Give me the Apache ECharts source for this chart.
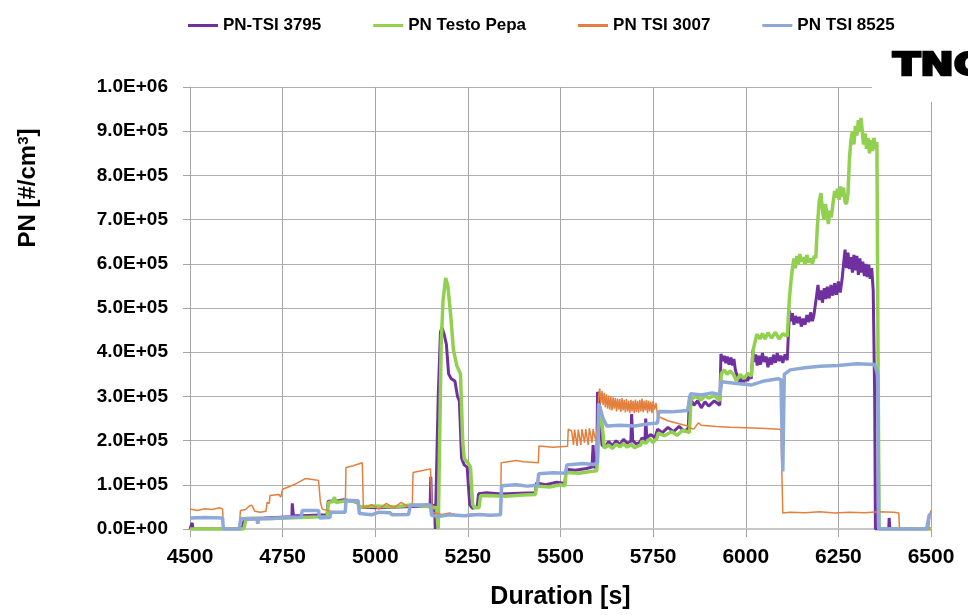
<!DOCTYPE html>
<html>
<head>
<meta charset="utf-8">
<title>PN</title>
<script src="https://cdn.jsdelivr.net/npm/echarts@6/dist/echarts.min.js"></script>
<style>
  html, body { margin: 0; padding: 0; background: #fff; }
  #main { width: 968px; height: 615px; }
</style>
</head>
<body>
<div id="main"></div>
<script>
// values: [duration s, PN in 1000 #/cm3]
var tsi3795 = [
  [4500,0],[4505,0],[4506,14],[4508,0],[4640,0],[4648,24],[4700,25],[4760,27],[4775,27],[4776,58],[4779,30],
  [4800,30],[4870,32],[4873,63],[4900,64],[4915,66],[4940,62],[4953,60],[4956,50],[5000,48],[5050,49],
  [5095,51],[5140,52],[5148,50],[5150,118],[5152,52],[5160,54],[5162,0],[5167,0],[5170,300],[5176,445],
  [5180,456],[5186,440],[5192,418],[5198,351],[5205,340],[5215,335],[5222,300],[5227,290],[5233,160],
  [5240,145],[5248,140],[5255,55],[5262,47],[5275,50],[5279,80],[5300,82],[5340,79],[5390,81],[5432,82],
  [5435,104],[5460,100],[5490,106],[5512,103],[5515,135],[5540,133],[5570,137],[5585,140],[5588,190],
  [5591,138],[5598,145],[5600,310],[5604,300],[5608,240],[5612,190],[5620,185],[5630,198],[5640,188],
  [5650,200],[5660,190],[5670,203],[5680,194],[5690,198],[5692,260],[5695,200],[5705,192],[5715,197],
  [5720,206],[5728,200],[5730,250],[5733,205],[5743,214],[5755,206],[5762,226],[5775,218],[5790,230],
  [5805,220],[5820,232],[5835,221],[5845,228],[5848,300],[5860,280],[5870,290],[5880,274],[5890,288],
  [5900,278],[5915,290],[5930,280],[5933,396],[5938,380],[5942,392],[5946,375],[5950,390],[5955,372],
  [5960,388],[5964,370],[5968,385],[5972,360],[5975,351],[5980,340],[5985,330],[5990,342],[5995,332],
  [6000,345],[6005,335],[6010,348],[6015,340],[6019,405],[6023,378],[6027,395],[6031,370],[6035,392],
  [6040,372],[6045,398],[6050,378],[6055,390],[6060,366],[6065,388],[6070,372],[6075,394],[6080,376],
  [6085,398],[6090,380],[6095,392],[6100,376],[6106,395],[6112,382],[6118,494],[6122,470],[6126,488],
  [6130,462],[6135,482],[6140,466],[6145,480],[6150,458],[6155,476],[6160,462],[6165,484],[6170,468],
  [6175,490],[6180,470],[6184,484],[6190,520],[6195,552],[6199,518],[6203,540],[6207,512],[6212,545],
  [6216,520],[6220,548],[6225,522],[6230,552],[6235,528],[6240,556],[6245,530],[6250,560],[6255,535],
  [6260,565],[6264,600],[6268,632],[6272,590],[6276,625],[6280,588],[6284,615],[6288,580],[6292,620],
  [6296,585],[6300,618],[6304,575],[6308,612],[6312,580],[6316,605],[6320,572],[6324,600],[6328,570],
  [6332,598],[6336,566],[6340,590],[6344,540],[6348,300],[6350,0],[6386,0],[6387,25],[6389,0],[6500,0]
];
var testoPepa = [
  [4500,0],[4645,0],[4652,24],[4700,23],[4760,25],[4800,26],[4870,28],[4874,60],[4885,62],[4890,72],
  [4894,60],[4920,64],[4953,62],[4956,50],[5000,52],[5050,50],[5100,55],[5150,50],[5165,48],[5170,0],
  [5174,0],[5178,420],[5183,517],[5190,568],[5196,550],[5200,546],[5204,480],[5211,405],[5220,370],
  [5230,351],[5236,200],[5240,159],[5250,150],[5257,140],[5263,55],[5268,48],[5280,48],[5284,75],
  [5300,76],[5350,74],[5400,77],[5432,78],[5436,97],[5470,95],[5500,100],[5512,98],[5515,128],
  [5550,126],[5580,130],[5598,132],[5603,235],[5607,277],[5612,240],[5618,183],[5630,190],[5640,182],
  [5650,192],[5660,186],[5670,193],[5680,185],[5690,192],[5700,184],[5716,190],[5720,199],[5730,194],
  [5740,204],[5750,196],[5760,205],[5764,217],[5780,211],[5800,220],[5815,212],[5830,224],[5848,218],
  [5852,293],[5865,300],[5880,292],[5890,302],[5900,296],[5915,302],[5930,290],[5934,351],[5942,360],
  [5950,350],[5958,358],[5968,348],[5975,335],[5985,350],[5995,340],[6005,352],[6015,346],[6020,405],
  [6030,441],[6038,430],[6045,442],[6052,430],[6060,444],[6070,432],[6080,445],[6090,430],[6100,442],
  [6112,436],[6118,523],[6122,560],[6126,590],[6130,612],[6134,590],[6138,618],[6142,600],[6146,622],
  [6150,605],[6155,615],[6160,598],[6165,620],[6170,603],[6175,612],[6180,600],[6185,618],[6189,613],
  [6193,680],[6198,740],[6203,760],[6207,720],[6211,700],[6215,735],[6219,715],[6223,690],[6227,720],
  [6231,705],[6236,740],[6240,765],[6244,750],[6248,770],[6252,745],[6256,775],[6260,752],[6264,772],
  [6268,740],[6272,735],[6276,760],[6280,840],[6284,880],[6288,900],[6292,870],[6296,912],[6300,890],
  [6304,925],[6308,900],[6311,930],[6314,905],[6318,870],[6322,895],[6326,860],[6330,885],[6334,850],
  [6338,880],[6342,855],[6346,885],[6350,860],[6354,875],[6357,400],[6360,0],[6500,0]
];
var tsi3007 = [
  [4500,45],[4520,42],[4540,46],[4560,44],[4580,48],[4588,45],[4590,2],[4633,2],[4636,42],[4650,44],
  [4660,52],[4667,54],[4675,40],[4690,38],[4705,40],[4708,60],[4714,58],[4716,76],[4740,78],[4745,72],
  [4750,90],[4780,100],[4811,114],[4830,112],[4847,110],[4852,60],[4857,45],[4880,40],[4900,38],
  [4919,40],[4921,139],[4940,143],[4965,150],[4968,47],[4990,55],[5010,45],[5030,58],[5050,48],
  [5070,60],[5090,50],[5100,52],[5102,128],[5125,132],[5149,136],[5154,38],[5180,33],[5200,36],
  [5230,30],[5260,34],[5300,32],[5338,33],[5340,150],[5380,155],[5400,152],[5440,150],[5442,188],
  [5480,185],[5519,187],[5521,226],[5530,222],[5535,190],[5538,225],[5545,188],[5548,225],[5555,190],
  [5558,226],[5565,195],[5568,226],[5575,190],[5578,228],[5585,195],[5588,226],[5595,200],[5600,226],
  [5603,300],[5606,318],[5609,285],[5612,312],[5615,280],[5618,308],[5621,275],[5624,305],[5627,272],
  [5630,302],[5633,270],[5636,300],[5639,268],[5642,298],[5645,272],[5648,296],[5651,266],[5654,295],
  [5657,270],[5660,294],[5663,265],[5666,296],[5669,268],[5672,292],[5675,264],[5678,294],[5681,266],
  [5684,290],[5687,262],[5690,292],[5693,266],[5696,290],[5699,262],[5702,293],[5705,265],[5708,290],
  [5711,263],[5714,292],[5717,266],[5720,295],[5723,264],[5726,290],[5729,268],[5732,292],[5735,262],
  [5738,290],[5741,266],[5744,288],[5747,262],[5750,290],[5754,270],[5758,285],[5762,255],[5790,245],
  [5820,238],[5843,233],[5850,228],[5860,226],[5872,240],[5880,235],[5920,232],[5960,230],[6000,229],
  [6040,228],[6080,226],[6095,225],[6100,36],[6120,38],[6160,37],[6200,39],[6240,36],[6280,38],
  [6320,37],[6360,39],[6400,38],[6413,36],[6415,0],[6494,0],[6497,30],[6500,42]
];
var tsi8525 = [
  [4500,25],[4540,26],[4588,25],[4590,0],[4633,0],[4637,24],[4660,22],[4680,23],[4683,12],[4686,24],
  [4720,24],[4760,26],[4800,27],[4803,42],[4847,42],[4850,25],[4878,26],[4880,38],[4919,38],[4921,65],
  [4954,64],[4957,35],[4990,32],[5010,38],[5040,37],[5045,32],[5090,33],[5095,54],[5140,55],[5149,54],
  [5152,31],[5170,28],[5200,32],[5240,30],[5280,33],[5310,31],[5338,32],[5341,98],[5380,100],[5410,97],
  [5438,99],[5441,125],[5480,127],[5514,126],[5517,145],[5560,148],[5590,146],[5600,150],[5603,284],
  [5608,280],[5615,250],[5625,233],[5660,235],[5700,233],[5740,238],[5762,240],[5765,266],[5800,265],
  [5843,268],[5851,306],[5880,303],[5910,308],[5930,304],[5935,333],[5970,330],[6016,326],[6050,335],
  [6087,340],[6095,338],[6100,130],[6104,350],[6120,360],[6160,365],[6200,368],[6249,370],[6300,374],
  [6348,372],[6356,350],[6359,0],[6488,0],[6495,31],[6500,35]
];
var seriesNames = ['PN-TSI 3795', 'PN Testo Pepa', 'PN TSI 3007', 'PN TSI 8525'];
var xTicks = [4500, 4750, 5000, 5250, 5500, 5750, 6000, 6250, 6500];

function toPN(arr) {
  return arr.map(function (p) { return [p[0], p[1] * 1000]; });
}
function sci(v) {
  if (v === 0) return '0.0E+00';
  var e = Math.floor(Math.log10(v) + 1e-9);
  var m = v / Math.pow(10, e);
  return m.toFixed(1) + 'E+' + (e < 10 ? '0' : '') + e;
}

var font = "'Liberation Sans', Arial, sans-serif";
var myChart = echarts.init(document.getElementById('main'));
var option = {
  animation: false,
  backgroundColor: '#fff',
  textStyle: { fontFamily: font },
  legend: {
    left: 183,
    top: 12,
    icon: 'rect',
    itemWidth: 30,
    itemHeight: 3,
    itemGap: 52,
    textStyle: { fontFamily: font, fontWeight: 'bold', fontSize: 17, color: '#000' },
    data: seriesNames
  },
  grid: { left: 190, right: 37, top: 87, bottom: 81 },
  xAxis: {
    type: 'value',
    min: xTicks[0],
    max: xTicks[xTicks.length - 1],
    interval: 250,
    name: 'Duration [s]',
    nameLocation: 'middle',
    nameGap: 56,
    nameTextStyle: { fontFamily: font, fontWeight: 'bold', fontSize: 25, color: '#000' },
    axisLine: { show: true, lineStyle: { color: '#c8c8c8', width: 2 } },
    axisTick: { show: true, length: 8, lineStyle: { color: '#a6a6a6' } },
    axisLabel: {
      margin: 18, fontFamily: font, fontWeight: 'bold', fontSize: 21, color: '#000',
      formatter: function (v) { return String(v); }
    },
    splitLine: { show: true, lineStyle: { color: '#a6a6a6', width: 1 } }
  },
  yAxis: {
    type: 'value',
    min: 0,
    max: 1000000,
    interval: 100000,
    axisLine: { show: true, lineStyle: { color: '#a6a6a6', width: 1 } },
    axisTick: { show: true, length: 7, lineStyle: { color: '#a6a6a6' } },
    axisLabel: {
      margin: 22, fontFamily: font, fontWeight: 'bold', fontSize: 19, color: '#000',
      formatter: sci
    },
    splitLine: { show: true, lineStyle: { color: '#b0b0b0', width: 1 } }
  },
  graphic: [
    {
      type: 'text', x: 28, y: 188, rotation: Math.PI / 2, z: 50,
      style: {
        text: '{a|PN [#/cm}{s|3}{a|]}',
        align: 'center', verticalAlign: 'middle',
        rich: {
          a: { fontFamily: font, fontWeight: 'bold', fontSize: 24, fill: '#000' },
          s: { fontFamily: font, fontWeight: 'bold', fontSize: 15, fill: '#000', verticalAlign: 'top', padding: [0, 0, 9, 0] }
        }
      }
    },
    {
      type: 'rect', x: 872, y: 38, z: 100,
      shape: { width: 96, height: 64 },
      style: { fill: '#fff' }
    },
    {
      type: 'text', x: 893, y: 67, z: 101, scaleX: 1.25,
      style: {
        text: 'TNO', fontFamily: "'DejaVu Sans', sans-serif", fontWeight: 'bold', fontSize: 32,
        fill: '#000', align: 'left', verticalAlign: 'middle', stroke: '#000', lineWidth: 2.5
      }
    }
  ],
  series: [
    { name: seriesNames[0], type: 'line', showSymbol: false, data: toPN(tsi3795),
      itemStyle: { color: '#7030A0' }, lineStyle: { color: '#7030A0', width: 3 } },
    { name: seriesNames[1], type: 'line', showSymbol: false, data: toPN(testoPepa),
      itemStyle: { color: '#92D050' }, lineStyle: { color: '#92D050', width: 3.5 } },
    { name: seriesNames[2], type: 'line', showSymbol: false, data: toPN(tsi3007),
      itemStyle: { color: '#E3803D' }, lineStyle: { color: '#E3803D', width: 1.5 } },
    { name: seriesNames[3], type: 'line', showSymbol: false, data: toPN(tsi8525),
      itemStyle: { color: '#8EA9D8' }, lineStyle: { color: '#8EA9D8', width: 3.5 } }
  ]
};
myChart.setOption(option);
</script>
</body>
</html>
